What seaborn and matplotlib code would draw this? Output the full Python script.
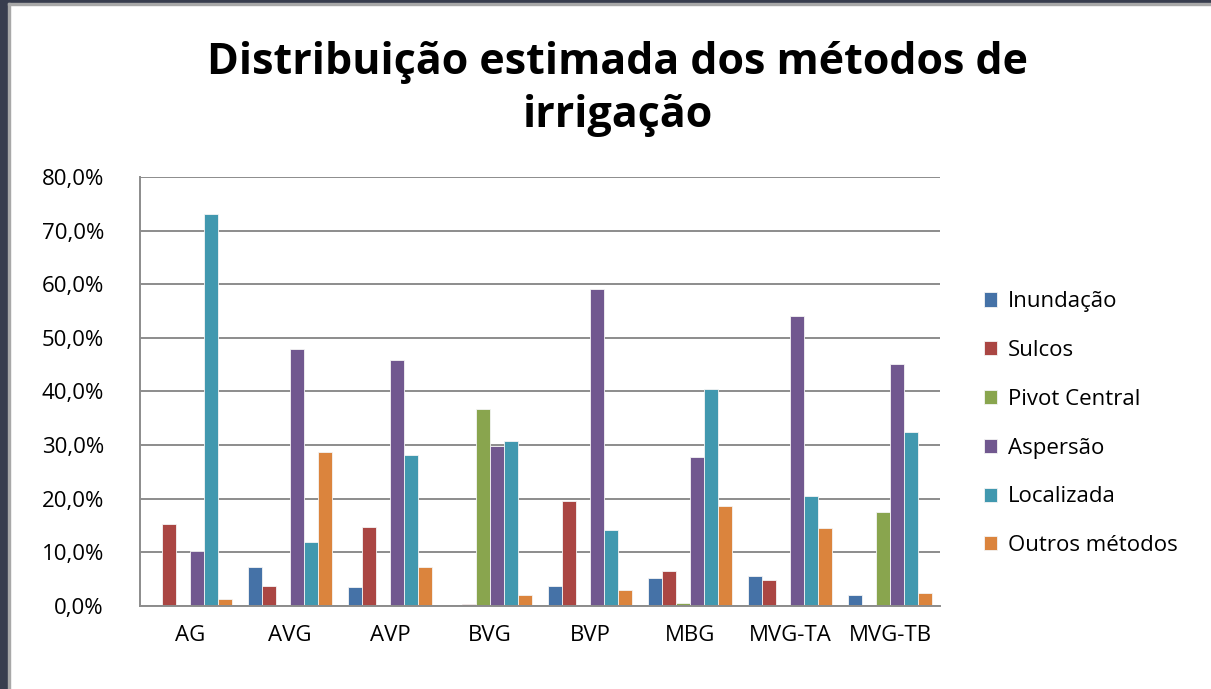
import pandas as pd
import matplotlib.pyplot as plt
import seaborn as sns
from matplotlib.patches import Rectangle
from matplotlib.ticker import FuncFormatter

# Regions and irrigation methods (share of irrigated area, %)
regions = ['AG', 'AVG', 'AVP', 'BVG', 'BVP', 'MBG', 'MVG-TA', 'MVG-TB']
methods = ['Inundação', 'Sulcos', 'Pivot Central', 'Aspersão', 'Localizada', 'Outros métodos']

inundacao = [0.0, 7.3, 3.5, 0.0, 3.7, 5.2, 5.6, 2.0]
sulcos = [15.2, 3.7, 14.8, 0.3, 19.6, 6.6, 4.9, 0.0]
pivot_central = [0.0, 0.0, 0.0, 36.8, 0.0, 0.6, 0.0, 17.5]
aspersao = [10.3, 47.9, 45.8, 29.9, 59.1, 27.7, 54.0, 45.1]
localizada = [73.1, 11.9, 28.1, 30.7, 14.1, 40.4, 20.6, 32.4]
outros = [1.25, 28.8, 7.3, 2.0, 2.9, 18.7, 14.6, 2.5]

colors = ['#4572A7', '#AA4643', '#89A54E', '#71588F', '#4198AF', '#DB843D']

def main():
    series = [inundacao, sulcos, pivot_central, aspersao, localizada, outros]
    rows = []
    for m, vals in zip(methods, series):
        for r, v in zip(regions, vals):
            rows.append({'Região': r, 'Método': m, 'Valor': v})
    df = pd.DataFrame(rows)

    sns.set_style('white')
    plt.rcParams['font.family'] = ['Open Sans', 'DejaVu Sans']

    fig = plt.figure(figsize=(12.11, 6.89), dpi=100)
    ax = fig.add_axes([0.1156, 0.1205, 0.6606, 0.6226])

    sns.barplot(data=df, x='Região', y='Valor', hue='Método', hue_order=methods,
                order=regions, palette=colors, width=0.84, ax=ax,
                edgecolor='#f4f4f4', linewidth=0.6, saturation=1)

    ax.set_ylim(0, 80)
    ax.set_xlim(-0.5, len(regions) - 0.5)
    ax.set_yticks(range(0, 81, 10))
    ax.yaxis.set_major_formatter(FuncFormatter(lambda v, p: f'{v:.1f}%'.replace('.', ',')))
    ax.grid(axis='y', color='#8c8c8c', linewidth=1.4)
    ax.set_axisbelow(True)
    ax.set_xlabel('')
    ax.set_ylabel('')
    ax.tick_params(axis='y', length=0, pad=26, labelsize=16, colors='black')
    ax.tick_params(axis='x', length=0, pad=14, labelsize=16, colors='black')
    for side in ['top', 'right']:
        ax.spines[side].set_visible(False)
    for side in ['left', 'bottom']:
        ax.spines[side].set_color('#8c8c8c')
        ax.spines[side].set_linewidth(1.4)

    handles, labels = ax.get_legend_handles_labels()
    ax.legend_.remove()
    fig.legend(handles, labels, loc='upper left', bbox_to_anchor=(0.805, 0.59),
               frameon=False, fontsize=16, labelcolor='black',
               handlelength=0.6, handleheight=0.6,
               handletextpad=0.5, labelspacing=1.25, borderaxespad=0)

    fig.suptitle('Distribuição estimada dos métodos de\nirrigação', x=0.51, y=0.94,
                 fontsize=31, fontweight='bold', linespacing=1.3, va='top', color='black')

    # window frame of the screenshot
    fig.patches.append(Rectangle((0, 0), 8 / 1211, 1, transform=fig.transFigure,
                                 color='#383d4e', zorder=-1))
    fig.patches.append(Rectangle((0, 1 - 3 / 689), 1, 3 / 689, transform=fig.transFigure,
                                 color='#383d4e', zorder=-1))
    fig.patches.append(Rectangle((8 / 1211, 0), 2 / 1211, 1 - 3 / 689, transform=fig.transFigure,
                                 color='#a8a8a8', zorder=-1))
    fig.patches.append(Rectangle((8 / 1211, 1 - 5 / 689), 1, 2 / 689, transform=fig.transFigure,
                                 color='#a8a8a8', zorder=-1))

    fig.savefig('out.png', dpi=100)

if __name__ == "__main__":
    main()
